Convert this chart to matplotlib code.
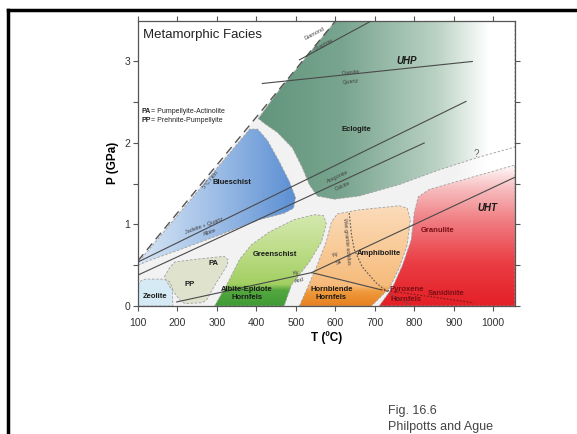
import numpy as np
import matplotlib
matplotlib.use("Agg")
import matplotlib.pyplot as plt
from matplotlib.patches import Polygon
from matplotlib.colors import LinearSegmentedColormap
from matplotlib.lines import Line2D

plt.rcParams["font.family"] = ["Liberation Sans", "DejaVu Sans"]

# axis ranges and ticks
T_MIN, T_MAX = 100, 1055
P_MIN, P_MAX = 0, 3.5
t_ticks = [100, 200, 300, 400, 500, 600, 700, 800, 900, 1000]
p_ticks = [0, 1, 2, 3]

# facies fields, (T in degC, P in GPa)
zeolite = [(100, 0), (100, 0.26), (108, 0.31), (118, 0.33), (165, 0.33), (180, 0.30), (187, 0.22), (188, 0)]
pp_pa = [(167, 0.36), (180, 0.47), (193, 0.54), (240, 0.57), (300, 0.60), (318, 0.61), (328, 0.57),
         (326, 0.50), (300, 0.30), (273, 0.07), (262, 0.04), (218, 0.03), (205, 0.08), (180, 0.24)]
blueschist = [(100, 0.50), (100, 0.53), (383, 2.17), (403, 2.17), (428, 2.03), (458, 1.77), (484, 1.52),
              (499, 1.33), (494, 1.20), (471, 1.14), (408, 1.06), (306, 0.87), (205, 0.69), (129, 0.56)]
eclogite = [(405, 2.30), (450, 2.60), (601, 3.5), (1055, 3.5), (1055, 1.95), (959, 1.82), (863, 1.67),
            (762, 1.49), (661, 1.35), (597, 1.31), (554, 1.35), (534, 1.49), (516, 1.70), (491, 1.94),
            (453, 2.13), (420, 2.24)]
greenschist = [(294, 0), (327, 0.28), (357, 0.57), (387, 0.75), (433, 0.91), (496, 1.06), (547, 1.12),
               (570, 1.11), (577, 1.01), (565, 0.79), (534, 0.54), (489, 0.26), (470, 0)]
amphibolite = [(509, 0), (529, 0.22), (554, 0.50), (577, 0.79), (590, 1.03), (605, 1.13), (661, 1.18),
               (762, 1.23), (782, 1.20), (790, 1.06), (782, 0.75), (762, 0.47), (737, 0.22), (706, 0.07),
               (691, 0)]
granulite = [(711, 0), (744, 0.22), (770, 0.50), (792, 0.81), (800, 1.15), (810, 1.34), (838, 1.43),
             (939, 1.57), (1055, 1.73), (1055, 0)]

# reaction curves
geotherm_5 = [(100, 0.556), (601, 3.5)]
jadeite_albite = [(100, 0.54), (931, 2.51)]
aragonite_calcite = [(100, 0.38), (825, 2.0)]
coesite_quartz = [(415, 2.73), (947, 3.0)]
graphite_diamond = [(509, 3.02), (692, 3.5)]
ky_sil = [(540, 0.41), (1055, 1.58)]
ky_and = [(198, 0.05), (540, 0.41)]
and_sil = [(540, 0.41), (715, 0.20)]
and_sil_dotted = [(715, 0.20), (950, 0.04)]
wet_solidus = [(635, 1.14), (641, 0.87), (648, 0.69), (668, 0.48), (704, 0.28), (750, 0.11), (790, 0.02)]


def gradient_fill(ax, verts, stops, axis="y", lo=0.0, hi=3.5, z=2, edge=True):
    poly = Polygon(verts, closed=True, fc="none", ec="none")
    ax.add_patch(poly)
    cmap = LinearSegmentedColormap.from_list("g", stops)
    ramp = np.linspace(0, 1, 256)
    if axis == "y":
        img, extent = ramp[:, None], (T_MIN, T_MAX, lo, hi)
    else:
        img, extent = ramp[None, :], (lo, hi, P_MIN, P_MAX)
    im = ax.imshow(img, cmap=cmap, extent=extent, origin="lower", aspect="auto",
                   zorder=z, interpolation="bilinear")
    im.set_clip_path(poly)
    if edge:
        ax.add_patch(Polygon(verts, closed=True, fc="none", ec="#a0a0a0", lw=0.6,
                             ls=(0, (3, 2)), zorder=z + 0.1))


def curve(ax, pts, **kw):
    t, p = zip(*pts)
    ax.plot(t, p, **kw)


fig = plt.figure(figsize=(5.77, 4.34), dpi=100)
ax = fig.add_axes([0.2392, 0.2949, 0.8925 - 0.2392, 0.9523 - 0.2949])

# light transition zone below the geotherm
bg = [(100, 0), (100, 0.556), (601, 3.5), (1055, 3.5), (1055, 0)]
gradient_fill(ax, bg, [(0, "#f2f2f2"), (0.84, "#f2f2f2"), (0.93, "#ffffff"), (1, "#ffffff")],
              axis="x", lo=100, hi=1055, z=1, edge=False)

gradient_fill(ax, eclogite, [(0, "#5f9379"), (0.35, "#79a58f"), (0.7, "#b9d1c3"), (0.9, "#ffffff"), (1, "#ffffff")],
              axis="x", lo=380, hi=1055)
gradient_fill(ax, blueschist, [(0, "#d9e6f5"), (0.5, "#9dbde6"), (1, "#5b8fd3")], axis="x", lo=100, hi=500)
gradient_fill(ax, greenschist, [(0, "#3f9b35"), (0.17, "#55a83f"), (0.23, "#a2cf62"), (0.6, "#bedd89"), (1, "#d6e9b2")],
              axis="y", lo=0, hi=1.15)
gradient_fill(ax, amphibolite, [(0, "#e8801f"), (0.14, "#ee9a3c"), (0.2, "#f6bb7b"), (0.6, "#f9cc9b"), (1, "#fbdcbc")],
              axis="y", lo=0, hi=1.25)
gradient_fill(ax, granulite, [(0, "#e41f26"), (0.3, "#ea3d44"), (0.6, "#f07e83"), (0.82, "#f7bcbe"), (1, "#ffffff")],
              axis="y", lo=0, hi=1.75)
gradient_fill(ax, zeolite, [(0, "#d5eaf4"), (1, "#d5eaf4")])
gradient_fill(ax, pp_pa, [(0, "#dfe2cd"), (1, "#dfe2cd")])

# reaction lines
line_kw = dict(color="#4a4a4a", lw=0.8, zorder=5)
curve(ax, geotherm_5, color="#555555", lw=1.0, ls=(0, (6, 4)), zorder=5)
curve(ax, jadeite_albite, **line_kw)
curve(ax, aragonite_calcite, **line_kw)
curve(ax, coesite_quartz, **line_kw)
curve(ax, graphite_diamond, **line_kw)
curve(ax, ky_sil, **line_kw)
curve(ax, ky_and, **line_kw)
curve(ax, and_sil, **line_kw)
curve(ax, and_sil_dotted, color="#7a1a1a", lw=0.8, ls=(0, (1.5, 1.5)), zorder=5)
curve(ax, wet_solidus, color="#555555", lw=0.8, ls=(0, (1.5, 1.5)), zorder=5)

# facies labels
lab = dict(fontsize=5.5, fontweight="bold", ha="center", va="center", zorder=6, color="#1a1a1a")
ax.text(143, 0.12, "Zeolite", **lab)
ax.text(230, 0.27, "PP", **lab)
ax.text(291, 0.52, "PA", **lab)
ax.text(339, 1.51, "Blueschist", **lab)
ax.text(653, 2.16, "Eclogite", **lab)
ax.text(446, 0.63, "Greenschist", **lab)
ax.text(375, 0.20, "Albite-Epidote", **lab)
ax.text(375, 0.10, "Hornfels", **lab)
ax.text(711, 0.65, "Amphibolite", **lab)
ax.text(590, 0.20, "Hornblende", **lab)
ax.text(590, 0.10, "Hornfels", **lab)
red = dict(lab, color="#7a0f14")
ax.text(858, 0.93, "Granulite", **red)
ax.text(780, 0.20, "Pyroxene", **red)
ax.text(780, 0.08, "Hornfels", **red)
ax.text(880, 0.15, "Sanidinite", **red)
ax.text(780, 3.0, "UHP", fontsize=7, fontweight="bold", style="italic", ha="center", va="center",
        color="#1a1a1a", zorder=6)
ax.text(985, 1.2, "UHT", fontsize=7, fontweight="bold", style="italic", ha="center", va="center",
        color="#1a1a1a", zorder=6)
ax.text(957, 1.86, "?", fontsize=7, ha="center", va="center", color="#666666", zorder=6)

# reaction labels
rl = dict(fontsize=4, ha="center", va="center", color="#444444", zorder=6)
ax.text(283, 1.55, "5°C / km", rotation=50, **rl)
ax.text(268, 0.98, "Jadeite + Quartz", rotation=20, **rl)
ax.text(282, 0.90, "Albite", rotation=20, **rl)
ax.text(605, 1.58, "Aragonite", rotation=25, **rl)
ax.text(618, 1.47, "Calcite", rotation=25, **rl)
ax.text(640, 2.86, "Coesite", rotation=6, **rl)
ax.text(640, 2.75, "Quartz", rotation=6, **rl)
ax.text(572, 3.20, "Graphite", rotation=28, **rl)
ax.text(548, 3.34, "Diamond", rotation=28, **rl)
ax.text(600, 0.63, "Ky", rotation=25, **rl)
ax.text(608, 0.53, "Sil", rotation=25, **rl)
ax.text(500, 0.41, "Ky", rotation=14, **rl)
ax.text(508, 0.31, "And", rotation=14, **rl)
ax.text(628, 0.80, "Wet granite solidus", rotation=-85, **rl)

ax.text(112, 3.33, "Metamorphic Facies", fontsize=9.5, ha="left", va="center", color="#222222", zorder=6)
leg = dict(fontsize=5, ha="left", va="center", color="#222222")
ax.text(110, 2.39, "PA", fontweight="bold", **leg)
ax.text(133, 2.39, "= Pumpellyite-Actinolite", **leg)
ax.text(110, 2.28, "PP", fontweight="bold", **leg)
ax.text(133, 2.28, "= Prehnite-Pumpellyite", **leg)

ax.set_xlim(T_MIN, T_MAX)
ax.set_ylim(P_MIN, P_MAX)
ax.set_xticks(t_ticks)
ax.set_yticks(p_ticks)
ax.set_yticks(np.arange(0.5, 3.5, 1.0), minor=True)
ax.tick_params(which="both", direction="out", length=3.6, width=0.8, color="#555555",
               top=True, right=True, labelsize=7.5, labelcolor="#333333", pad=2)
ax.tick_params(axis="x", pad=5)
for s in ax.spines.values():
    s.set_color("#555555")
    s.set_linewidth(0.9)
ax.set_xlabel("T (ºC)", fontsize=8.5, fontweight="bold", labelpad=2)
ax.set_ylabel("P (GPa)", fontsize=8.5, fontweight="bold", labelpad=4)

# slide frame and caption
fig.add_artist(Line2D([0.0139, 1.0], [0.977, 0.977], color="black", lw=2.5))
fig.add_artist(Line2D([0.0139, 0.0139], [0.0, 0.977], color="black", lw=2.5))
fig.text(0.672, 0.052, "Fig. 16.6", fontsize=9, color="#444444", ha="left", va="center")
fig.text(0.672, 0.017, "Philpotts and Ague", fontsize=9, color="#444444", ha="left", va="center")

fig.savefig("out.png", dpi=100)
